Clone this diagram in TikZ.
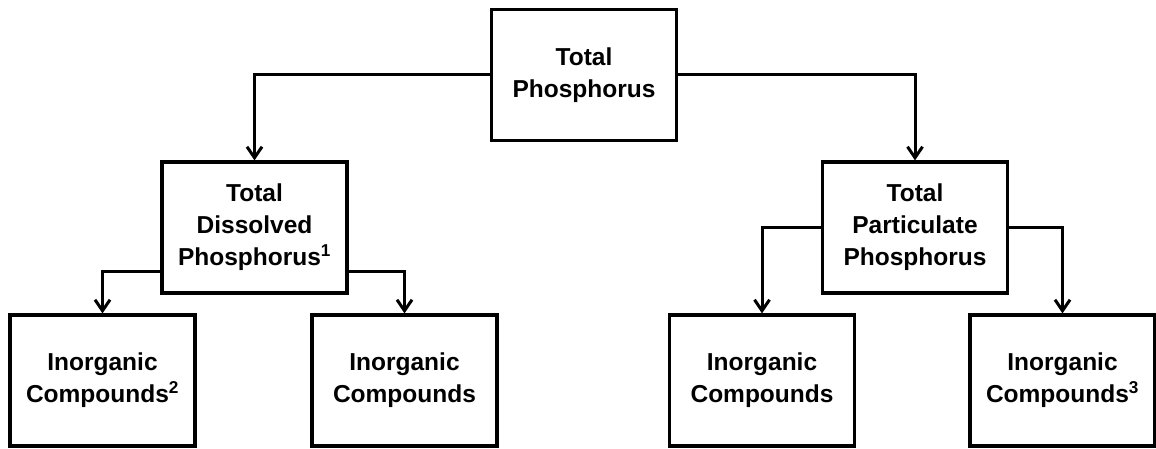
\documentclass[tikz,border=0pt]{standalone}
\usepackage{fontspec}
\setmainfont{Liberation Sans}
\usetikzlibrary{arrows.meta}
\begin{document}
\begin{tikzpicture}[x=1pt,y=-1pt,
  box/.style={draw, line width=3.2pt, minimum width=185pt, minimum height=131pt,
    align=center, inner sep=0pt,
    font=\fontsize{24.5pt}{32pt}\selectfont\bfseries},
  link/.style={line width=3pt, -{Straight Barb[length=11pt,width=15pt]}}]
\useasboundingbox (0,0) rectangle (1156,449);
\node[box] (tp)  at (584,75)     {Total\\Phosphorus};
\node[box] (tdp) at (254.5,227.5) {Total\\Dissolved\\Phosphorus\textsuperscript{1}};
\node[box] (tpp) at (915,227.5)   {Total\\Particulate\\Phosphorus};
\node[box] (c1)  at (102.5,380.5) {Inorganic\\Compounds\textsuperscript{2}};
\node[box] (c2)  at (404.5,380.5) {Inorganic\\Compounds};
\node[box] (c3)  at (762,380.5)   {Inorganic\\Compounds};
\node[box] (c4)  at (1062.5,380.5) {Inorganic\\Compounds\textsuperscript{3}};
% connectors
\draw[link] (tp.west) -| (tdp.north);
\draw[link] (tp.east) -| (tpp.north);
\draw[link] ([yshift=-43.5pt]tdp.west) -| (c1.north);
\draw[link] ([yshift=-43.5pt]tdp.east) -| (c2.north);
\draw[link] (tpp.west) -| (c3.north);
\draw[link] (tpp.east) -| (c4.north);
\end{tikzpicture}
\end{document}
